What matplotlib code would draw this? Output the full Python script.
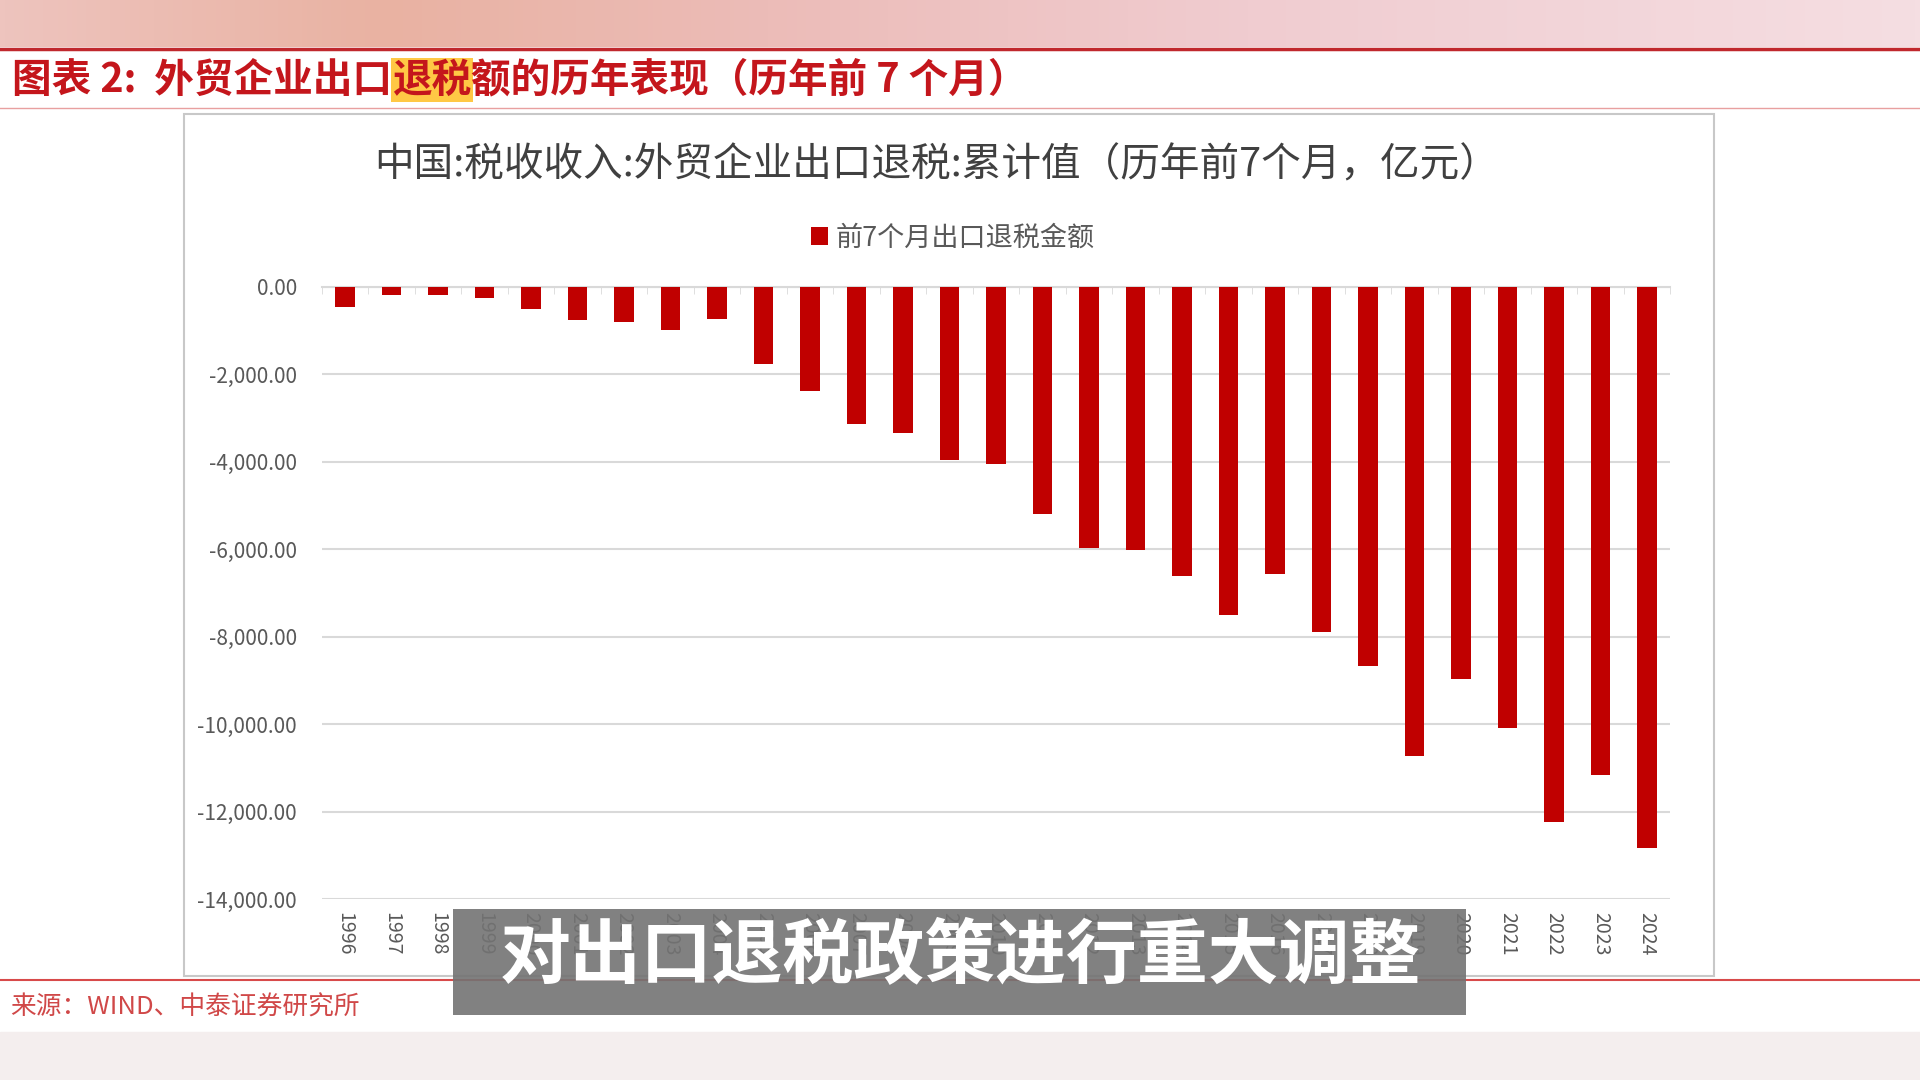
import matplotlib
matplotlib.use('Agg')
import matplotlib.pyplot as plt
import numpy as np
from matplotlib.patches import Rectangle
from matplotlib.lines import Line2D
from matplotlib.ticker import MultipleLocator, FixedLocator, FuncFormatter

plt.rcParams['font.family'] = ['Noto Sans CJK SC', 'DejaVu Sans']

# ---------- data (亿元, 历年前7个月) ----------
years = ['1996', '1997', '1998', '1999', '2000', '2001', '2002', '2003', '2004',
         '2005', '2006', '2007', '2008', '2009', '2010', '2011', '2012', '2013',
         '2014', '2015', '2016', '2017', '2018', '2019', '2020', '2021', '2022',
         '2023', '2024']
refund = [-468, -189, -189, -264, -513, -755, -808, -981, -732,
          -1758, -2390, -3145, -3351, -3969, -4061, -5206, -5977, -6015,
          -6615, -7515, -6577, -7890, -8673, -10726, -8979, -10099, -12245,
          -11170, -12841]

header_a = '图表 2:  外贸企业出口'
header_b = '退税'
header_c = '额的历年表现（历年前 7 个月）'
chart_title = '中国:税收收入:外贸企业出口退税:累计值（历年前7个月，亿元）'
series_name = '前7个月出口退税金额'
source = '来源：WIND、中泰证券研究所'
caption = '对出口退税政策进行重大调整'

W, H = 1920, 1080
def fx(px):
    return px / W
def fy(py):
    return 1 - py / H

fig = plt.figure(figsize=(19.2, 10.8), dpi=100)
fig.patch.set_facecolor('white')

# ---------- page decoration ----------
# pink band on top
axg = fig.add_axes([0, fy(47), 1, 47 / H])
stops = np.array([0, 0.2, 0.4, 0.65, 1.0])
cols = np.array([[238, 196, 190], [233, 178, 162], [236, 188, 184],
                 [240, 204, 208], [245, 222, 226]]) / 255
t = np.linspace(0, 1, 400)
grad = np.stack([np.interp(t, stops, cols[:, k]) for k in range(3)], axis=-1)
axg.imshow(grad[None, :, :], aspect='auto', extent=[0, 1, 0, 1])
axg.axis('off')

fig.add_artist(Rectangle((0, 0), 1, 48 / H, transform=fig.transFigure,
                         color='#f4eeee', zorder=0))
fig.add_artist(Line2D([0, 1], [fy(49), fy(49)], transform=fig.transFigure,
                      color='#c0282d', lw=2.5))
fig.add_artist(Line2D([0, 1], [fy(108), fy(108)], transform=fig.transFigure,
                      color='#e8a0a0', lw=1))
fig.add_artist(Line2D([0, 1], [fy(980), fy(980)], transform=fig.transFigure,
                      color='#d84a4a', lw=1.5))

# header title with highlighted part
fig.canvas.draw()
r = fig.canvas.get_renderer()
hred = '#c4161c'
hsize = 28.5
t1 = fig.text(fx(12), fy(80), header_a, color=hred, fontsize=hsize,
              fontweight='bold', va='center', ha='left')
x1 = t1.get_window_extent(r).x1
t2 = fig.text(x1 / W, fy(80), header_b, color=hred, fontsize=hsize,
              fontweight='bold', va='center', ha='left',
              bbox=dict(fc='#ffc845', ec='none', pad=1))
x2 = t2.get_window_extent(r).x1
fig.text(x2 / W, fy(80), header_c, color=hred, fontsize=hsize,
         fontweight='bold', va='center', ha='left')

# chart frame
fig.add_artist(Rectangle((fx(184), fy(976)), 1530 / W, 862 / H,
                         transform=fig.transFigure, fill=False,
                         ec='#c8c8c8', lw=1.5))

fig.text(fx(937), fy(165), chart_title, fontsize=28.5, color='#404040',
         ha='center', va='center')

# ---------- bar chart ----------
ax = fig.add_axes([fx(322), fy(899), 1348 / W, 612.3 / H])
x = np.arange(len(years))
ax.bar(x, refund, width=0.42, color='#c00000', label=series_name, zorder=3)
ax.set_xlim(-0.5, len(years) - 0.5)
ax.set_ylim(-14000, 0)

ax.yaxis.set_major_locator(MultipleLocator(2000))
ax.yaxis.set_major_formatter(FuncFormatter(
    lambda v, p: f'{0.0 if abs(v) < 1e-9 else v:,.2f}'))
ax.grid(axis='y', color='#d9d9d9', lw=1.5)
ax.set_axisbelow(True)
for s in ['left', 'right', 'bottom']:
    ax.spines[s].set_visible(False)
ax.spines['top'].set_color('#d9d9d9')
ax.spines['top'].set_linewidth(1.5)

ax.set_xticks(x)
ax.set_xticklabels(years, rotation=-90)
ax.xaxis.set_minor_locator(FixedLocator(np.arange(-0.5, len(years), 1)))
ax.tick_params(axis='y', length=0, pad=18, labelsize=15, labelcolor='#595959')
ax.tick_params(axis='x', which='major', length=0, pad=9, labelsize=14,
               labelcolor='#595959')
ax.tick_params(axis='x', which='minor', top=True, bottom=False,
               direction='in', length=5, color='#d9d9d9')
ax.set_facecolor('none')

fig.legend(loc='center', bbox_to_anchor=(fx(953), fy(238)), frameon=False,
           fontsize=19.5, handlelength=0.6, handleheight=0.6,
           handletextpad=0.3, labelcolor='#595959')

# source
fig.text(fx(10), fy(1008), source, color='#d04848', fontsize=18.5,
         va='center', ha='left')

# caption overlay
fig.add_artist(Rectangle((fx(453), fy(1015)), 1013 / W, 106 / H,
                         transform=fig.transFigure, fc='#737373',
                         alpha=0.9, ec='none', zorder=10))
fig.text(fx(960), fy(957), caption, color='white', fontsize=51,
         fontweight='bold', ha='center', va='center', zorder=11)

fig.savefig('out.png', dpi=100)
plt.close(fig)
